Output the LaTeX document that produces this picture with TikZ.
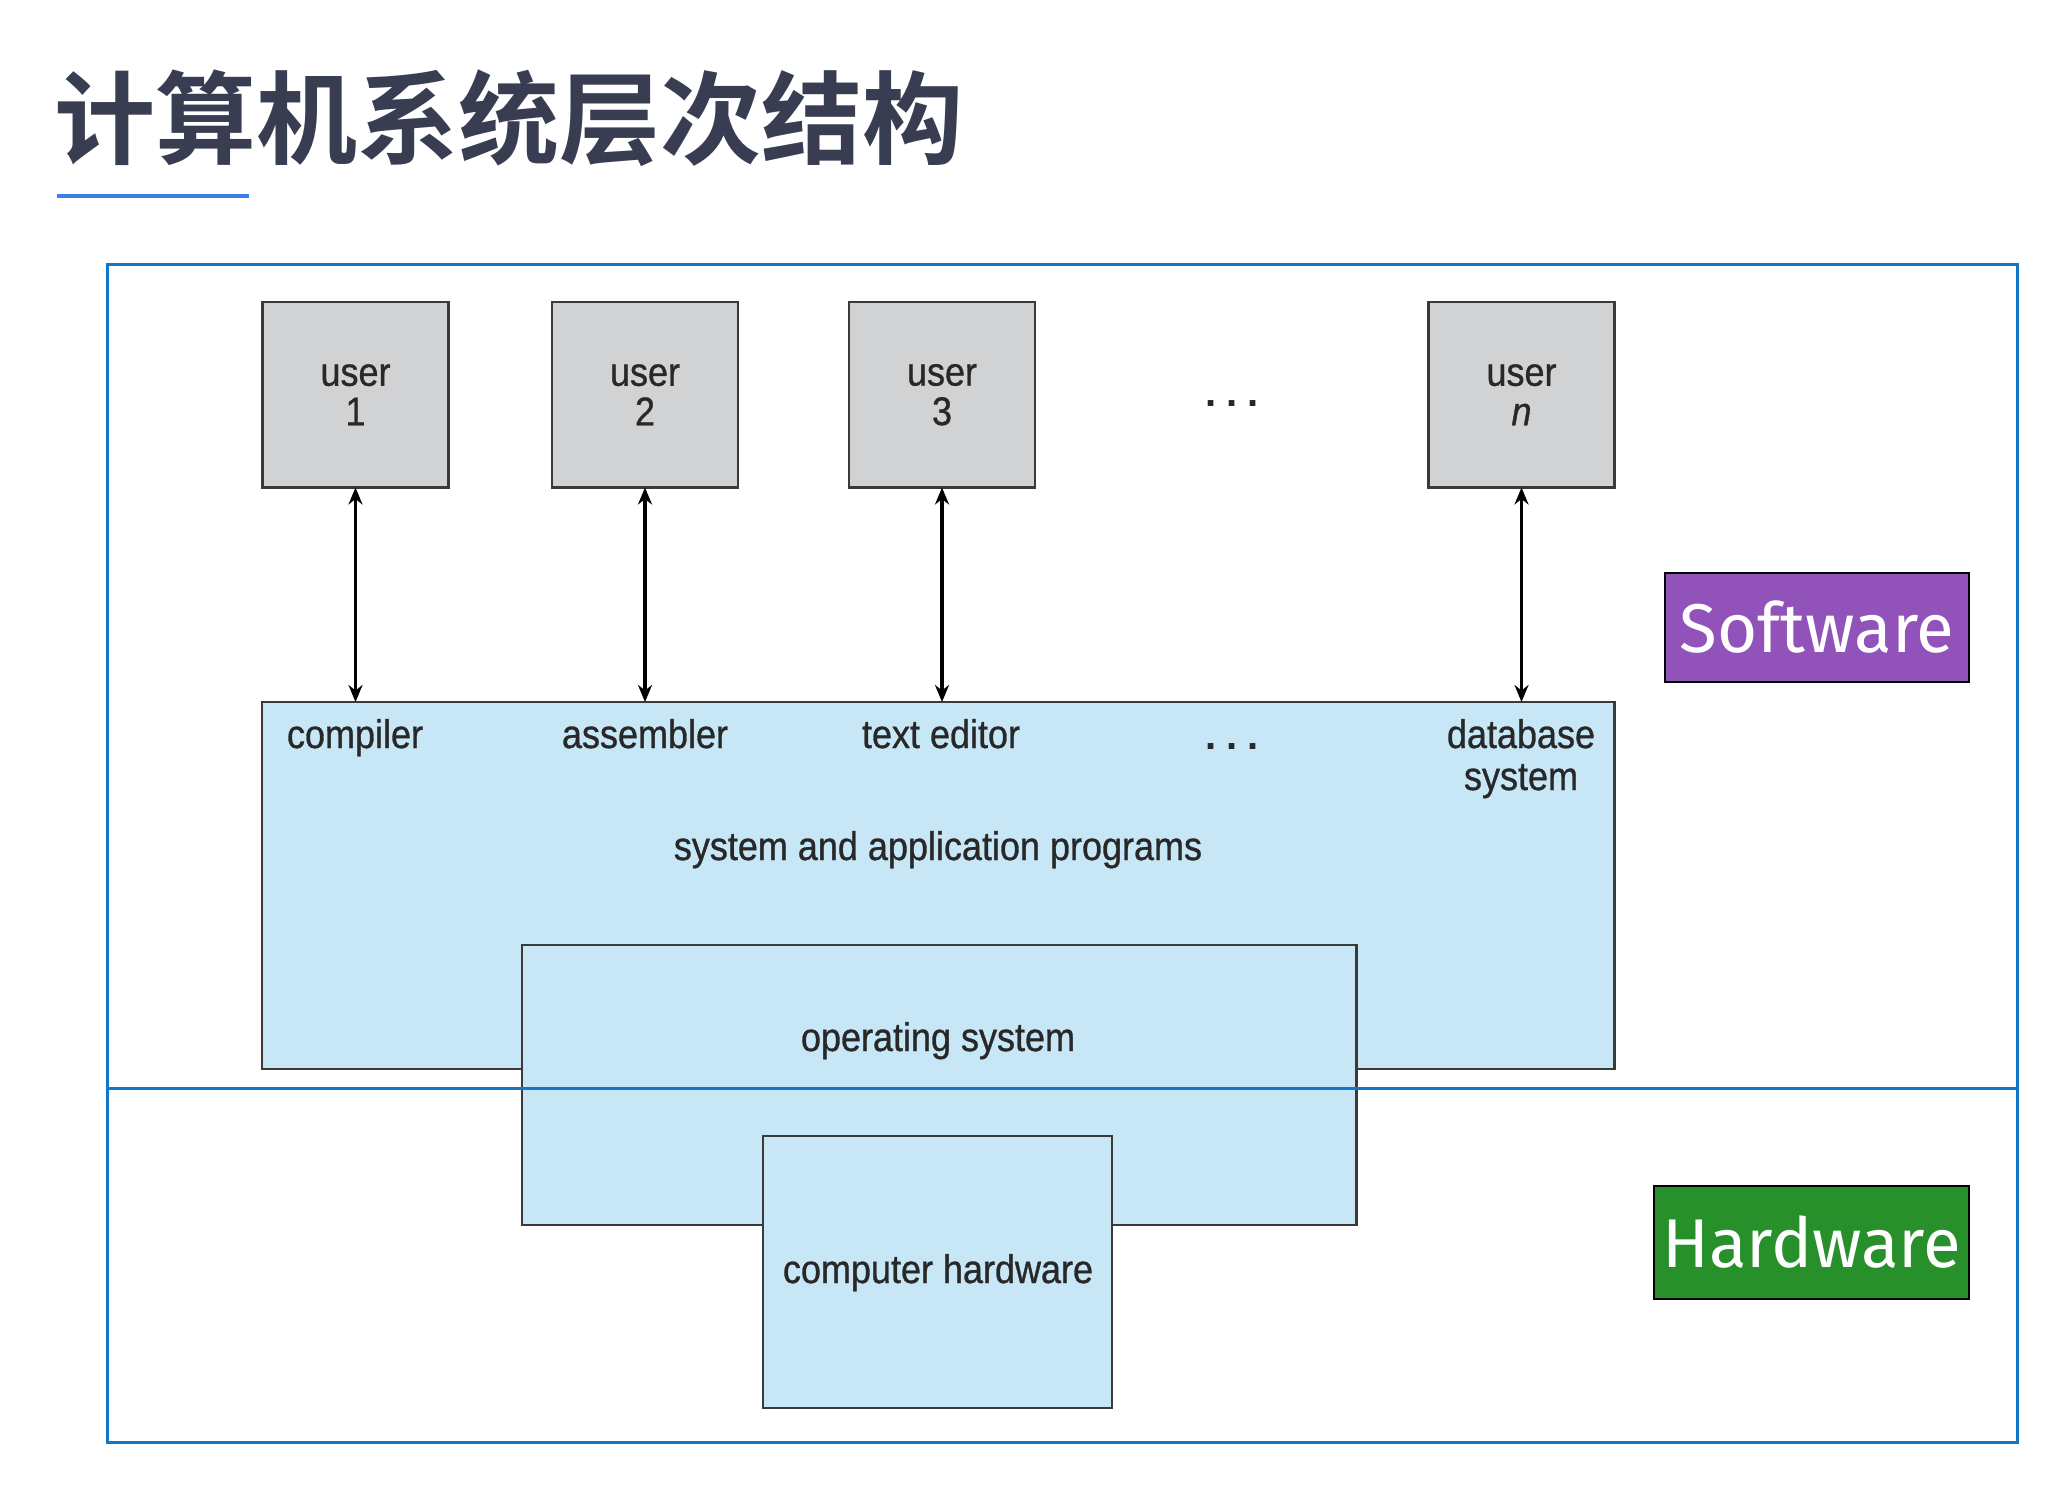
\documentclass[tikz,border=0pt]{standalone}
\usepackage{fontspec}
\usetikzlibrary{arrows.meta}
\newfontfamily\labfont[FakeStretch=0.9,FakeBold=0.8]{Liberation Sans}
\newfontfamily\dotfont{Liberation Sans Bold}
\newfontfamily\cjkfont{Noto Sans CJK SC}[BoldFont=* Bold]
\newfontfamily\tagfont{Fira Sans}
\definecolor{framebl}{RGB}{18,119,198}
\definecolor{boxgray}{RGB}{209,210,212}
\definecolor{boxblue}{RGB}{199,231,247}
\definecolor{edgegray}{RGB}{58,58,58}
\definecolor{txtdark}{RGB}{40,40,40}
\definecolor{titlecol}{RGB}{57,61,82}
\definecolor{ulblue}{RGB}{61,127,232}
\definecolor{swpurple}{RGB}{145,82,185}
\definecolor{hwgreen}{RGB}{40,144,42}
\tikzset{
  userbox/.style={draw=edgegray, fill=boxgray, line width=2.5pt, minimum width=186pt, minimum height=185.5pt, inner sep=0pt, outer sep=0pt, align=center, text=txtdark, font=\labfont\fontsize{40}{39.5}\selectfont},
  layerbox/.style={draw=edgegray, fill=boxblue, line width=2.5pt, inner sep=0pt, outer sep=0pt},
  lab/.style={text=txtdark, font=\labfont\fontsize{40}{42}\selectfont, inner sep=0pt, anchor=base},
  dots/.style={text=txtdark, font=\dotfont\fontsize{40}{42}\selectfont, inner sep=0pt, anchor=center},
  biarrow/.style={line width=3.5pt, black, {Stealth[length=17pt,width=14pt]}-{Stealth[length=17pt,width=14pt]}},
  tagbox/.style={draw=black, line width=2pt, inner sep=0pt, outer sep=0pt, text=white, font=\tagfont\fontsize{69}{72}\selectfont},
  frameline/.style={draw=framebl, line width=3pt}
}
\begin{document}
\begin{tikzpicture}[x=1pt,y=-1pt]
\useasboundingbox (0,0) rectangle (2068,1504);
\fill[white] (0,0) rectangle (2068,1504);
% title
\node[anchor=west, inner sep=0pt, text=titlecol, font=\cjkfont\bfseries\fontsize{101}{104}\selectfont] (title) at (54,118) {计算机系统层次结构};
\fill[ulblue] (57,194) rectangle (249,198);
% layer boxes
\node[layerbox, minimum width=1352.5pt, minimum height=367pt] (prog) at (938.25,885.5) {};
\node[layerbox, minimum width=834.5pt, minimum height=280pt] (os) at (939.25,1085) {};
\node[layerbox, minimum width=349pt, minimum height=272pt] (hw) at (937.5,1272) {};
% users
\node[userbox] (u1) at (355.5,394.75) {user\\1};
\node[userbox] (u2) at (645,394.75) {user\\2};
\node[userbox] (u3) at (942,394.75) {user\\3};
\node[userbox] (un) at (1521.5,394.75) {user\\\textit{n}};
\node[dots] (dots1) at (1232,404) {.\hspace{10pt}.\hspace{10pt}.};
% arrows
\draw[biarrow] (u1.south) -- (u1.south |- prog.north);
\draw[biarrow] (u2.south) -- (u2.south |- prog.north);
\draw[biarrow] (u3.south) -- (u3.south |- prog.north);
\draw[biarrow] (un.south) -- (un.south |- prog.north);
% labels
\node[lab] (comp) at (355,748) {compiler};
\node[lab] (asm) at (645,748) {assembler};
\node[lab] (ted) at (941,748) {text editor};
\node[dots] (dots2) at (1232,747) {.\hspace{10pt}.\hspace{10pt}.};
\node[lab] (db1) at (1521,748) {database};
\node[lab] (db2) at (1521,790) {system};
\node[lab] (sap) at (938,860) {system and application programs};
\node[lab] (osl) at (938,1051) {operating system};
\node[lab] (hwl) at (938,1283) {computer hardware};
% frame
\draw[frameline] (107.5,264) rectangle (2017,1442);
\draw[frameline] (107.5,1088) -- (2017,1088);
% tags
\node[tagbox, fill=swpurple, minimum width=304pt, minimum height=109.5pt] (sw) at (1817,627.25) {Software};
\node[tagbox, fill=hwgreen, minimum width=315pt, minimum height=112.5pt] (hwt) at (1811.5,1242.25) {Hardware};
\end{tikzpicture}
\end{document}
